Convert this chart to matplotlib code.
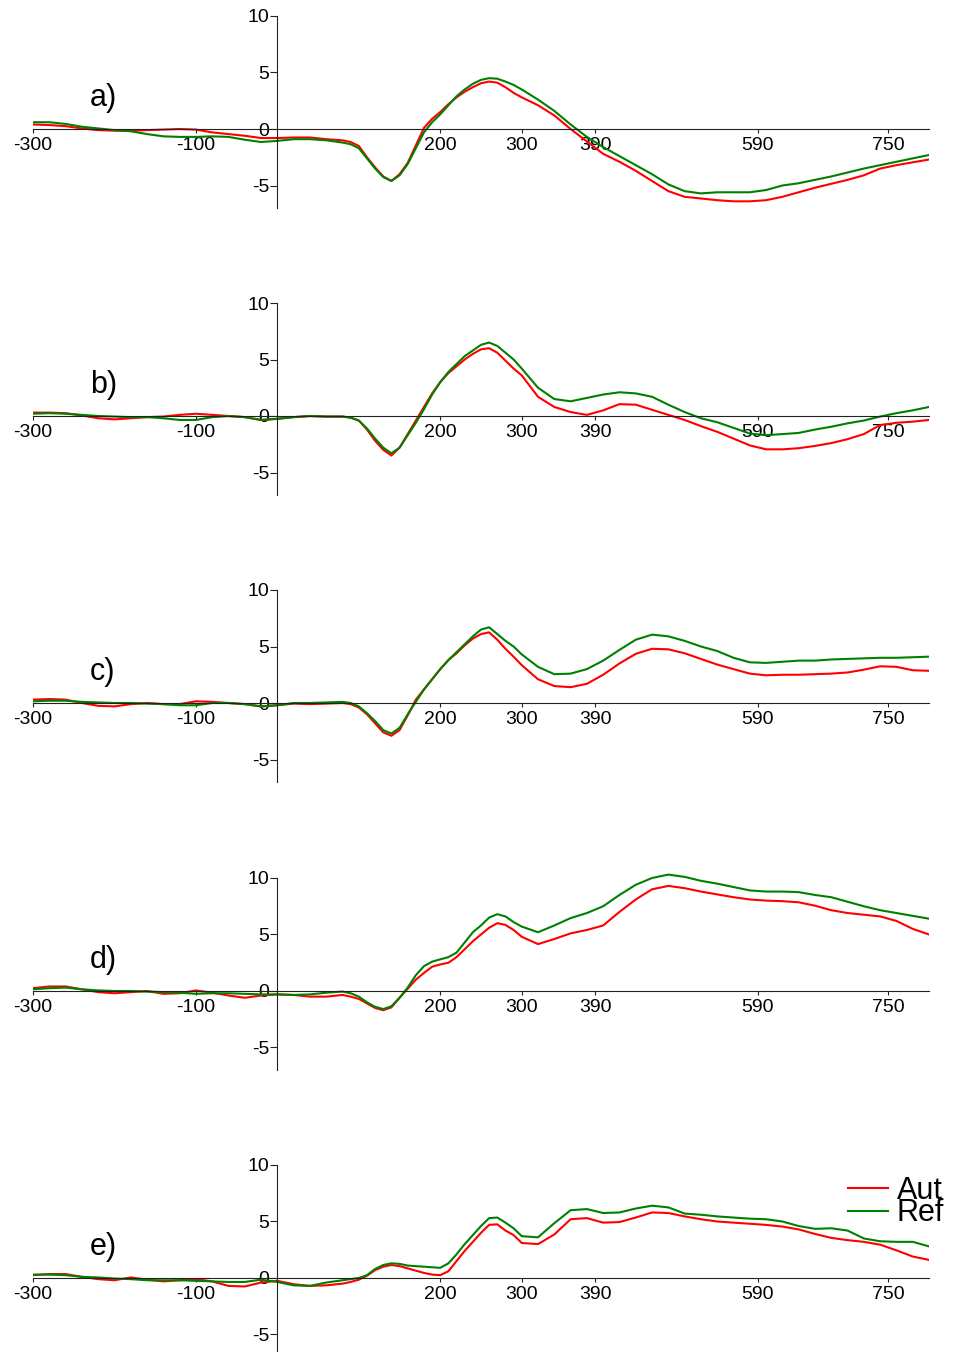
#!/usr/bin/env python3
"""
Averaged waveforms, Aut vs Ref, five conditions (a-e).
"""

import matplotlib.pyplot as plt
from matplotlib.lines import Line2D

plt.rcParams['font.family'] = ['Liberation Sans', 'DejaVu Sans']
plt.rcParams['axes.unicode_minus'] = False

# sampling times (ms): 20 ms steps, 10 ms around the early peaks
time_ms = list(range(-300, 90, 20)) + list(range(90, 301, 10)) + list(range(320, 801, 20))

panel_labels = ['a)', 'b)', 'c)', 'd)', 'e)']
xtick_vals = [-300, -100, 200, 300, 390, 590, 750]
ytick_vals = [-5, 0, 5, 10]
series_names = ['Aut', 'Ref']

# a)
aut_a = [0.4, 0.35, 0.25, 0.05, -0.1, -0.15, -0.15, -0.1, -0.05, 0.0,
         -0.05, -0.3, -0.45, -0.6, -0.8, -0.8, -0.75, -0.75, -0.9, -1.0,
         -1.15, -1.5, -2.5, -3.4, -4.2, -4.6, -4.0, -3.0, -1.45, 0.1, 0.9,
         1.5, 2.2, 2.8, 3.3, 3.7, 4.05, 4.2, 4.1, 3.7, 3.2, 2.8,
         2.1, 1.2, 0.0, -1.1, -2.2, -2.9, -3.7, -4.6, -5.5, -6.0,
         -6.15, -6.3, -6.4, -6.4, -6.3, -6.0, -5.6, -5.2, -4.85, -4.5,
         -4.1, -3.5, -3.2, -2.95, -2.7]
ref_a = [0.6, 0.6, 0.45, 0.2, 0.05, -0.1, -0.2, -0.45, -0.65, -0.7,
         -0.7, -0.65, -0.7, -0.95, -1.15, -1.05, -0.9, -0.9, -1.0, -1.2,
         -1.35, -1.7, -2.6, -3.5, -4.25, -4.6, -4.1, -3.1, -1.7, -0.3, 0.6,
         1.3, 2.1, 2.9, 3.5, 4.0, 4.35, 4.5, 4.45, 4.2, 3.9, 3.5,
         2.6, 1.6, 0.4, -0.7, -1.6, -2.4, -3.2, -4.0, -4.9, -5.5,
         -5.7, -5.6, -5.6, -5.6, -5.4, -5.0, -4.8, -4.5, -4.2, -3.85,
         -3.5, -3.2, -2.9, -2.6, -2.3]

# b)
aut_b = [0.3, 0.3, 0.25, 0.05, -0.2, -0.3, -0.2, -0.1, -0.05, 0.1,
         0.2, 0.1, 0.0, -0.1, -0.35, -0.25, -0.1, 0.0, -0.05, -0.05,
         -0.15, -0.4, -1.2, -2.2, -3.0, -3.5, -2.8, -1.6, -0.4, 0.8, 2.0,
         3.0, 3.8, 4.4, 5.0, 5.5, 5.9, 6.0, 5.6, 4.9, 4.2, 3.6,
         1.7, 0.8, 0.35, 0.1, 0.5, 1.05, 1.0, 0.55, 0.1, -0.35,
         -0.9, -1.4, -2.0, -2.6, -2.95, -2.95, -2.85, -2.65, -2.4, -2.05,
         -1.6, -0.8, -0.6, -0.5, -0.35]
ref_b = [0.2, 0.25, 0.2, 0.1, 0.0, -0.05, -0.1, -0.1, -0.2, -0.35,
         -0.35, -0.1, 0.0, -0.1, -0.35, -0.25, -0.1, 0.0, -0.05, -0.05,
         -0.15, -0.4, -1.1, -2.0, -2.8, -3.3, -2.8, -1.7, -0.6, 0.6, 1.9,
         3.0, 3.9, 4.6, 5.3, 5.8, 6.3, 6.5, 6.2, 5.6, 5.0, 4.2,
         2.5, 1.5, 1.3, 1.6, 1.9, 2.1, 2.0, 1.7, 1.0, 0.35,
         -0.2, -0.55, -1.05, -1.55, -1.7, -1.6, -1.5, -1.2, -0.95, -0.65,
         -0.4, -0.05, 0.25, 0.5, 0.8]

# c)
aut_c = [0.3, 0.35, 0.3, 0.0, -0.25, -0.3, -0.1, 0.0, -0.1, -0.1,
         0.15, 0.1, 0.0, -0.1, -0.3, -0.2, -0.05, -0.1, -0.05, 0.0,
         -0.1, -0.4, -1.0, -1.8, -2.6, -2.9, -2.4, -1.1, 0.3, 1.2, 2.1,
         3.0, 3.8, 4.4, 5.1, 5.7, 6.1, 6.25, 5.6, 4.8, 4.1, 3.35,
         2.1, 1.5, 1.4, 1.7, 2.5, 3.5, 4.35, 4.8, 4.75, 4.4,
         3.9, 3.4, 3.0, 2.6, 2.45, 2.5, 2.5, 2.55, 2.6, 2.7,
         2.95, 3.25, 3.2, 2.9, 2.85]
ref_c = [0.15, 0.2, 0.2, 0.1, 0.05, 0.0, 0.0, -0.05, -0.1, -0.2,
         -0.2, 0.0, 0.0, -0.1, -0.3, -0.2, 0.0, 0.0, 0.05, 0.1,
         0.0, -0.3, -0.9, -1.6, -2.4, -2.7, -2.2, -1.0, 0.1, 1.2, 2.1,
         3.0, 3.8, 4.5, 5.2, 5.9, 6.5, 6.7, 6.1, 5.5, 5.0, 4.3,
         3.2, 2.55, 2.6, 3.0, 3.75, 4.7, 5.6, 6.05, 5.9, 5.5,
         5.0, 4.6, 4.0, 3.6, 3.55, 3.65, 3.75, 3.75, 3.85, 3.9,
         3.95, 4.0, 4.0, 4.05, 4.1]

# d)
aut_d = [0.25, 0.4, 0.4, 0.15, -0.1, -0.2, -0.1, 0.0, -0.25, -0.2,
         0.05, -0.15, -0.4, -0.6, -0.4, -0.3, -0.35, -0.5, -0.5, -0.35,
         -0.5, -0.7, -1.1, -1.5, -1.7, -1.45, -0.6, 0.2, 1.0, 1.6, 2.15,
         2.35, 2.5, 3.0, 3.7, 4.4, 5.0, 5.6, 6.0, 5.85, 5.4, 4.8,
         4.15, 4.6, 5.1, 5.4, 5.8, 7.0, 8.1, 9.0, 9.3, 9.1,
         8.8, 8.55, 8.3, 8.1, 8.0, 7.95, 7.85, 7.55, 7.15, 6.9,
         6.75, 6.6, 6.2, 5.5, 5.0]
ref_d = [0.15, 0.25, 0.3, 0.15, 0.05, 0.0, 0.0, -0.05, -0.1, -0.15,
         -0.25, -0.2, -0.2, -0.25, -0.3, -0.3, -0.35, -0.3, -0.15, -0.05,
         -0.2, -0.5, -1.0, -1.4, -1.6, -1.35, -0.6, 0.3, 1.4, 2.2, 2.6,
         2.8, 3.0, 3.4, 4.3, 5.2, 5.8, 6.5, 6.8, 6.6, 6.1, 5.7,
         5.2, 5.8, 6.45, 6.9, 7.5, 8.5, 9.4, 10.0, 10.3, 10.1,
         9.75, 9.5, 9.2, 8.9, 8.8, 8.8, 8.75, 8.5, 8.3, 7.9,
         7.5, 7.15, 6.9, 6.65, 6.4]

# e)
aut_e = [0.25, 0.35, 0.35, 0.1, -0.1, -0.2, 0.05, -0.15, -0.3, -0.2,
         -0.1, -0.3, -0.7, -0.75, -0.4, -0.25, -0.55, -0.7, -0.65, -0.5,
         -0.35, -0.15, 0.2, 0.7, 1.0, 1.15, 1.05, 0.85, 0.65, 0.45, 0.3,
         0.25, 0.6, 1.5, 2.4, 3.2, 4.0, 4.7, 4.75, 4.2, 3.8, 3.1,
         3.0, 3.85, 5.2, 5.3, 4.9, 4.95, 5.35, 5.8, 5.75, 5.45,
         5.2, 5.0, 4.9, 4.8, 4.7, 4.55, 4.3, 3.9, 3.55, 3.35,
         3.2, 2.95, 2.45, 1.9, 1.6]
ref_e = [0.3, 0.3, 0.25, 0.1, 0.05, -0.05, -0.1, -0.2, -0.2, -0.2,
         -0.25, -0.3, -0.35, -0.35, -0.15, -0.35, -0.65, -0.7, -0.4, -0.2,
         -0.1, 0.0, 0.25, 0.8, 1.15, 1.3, 1.25, 1.1, 1.05, 1.0, 0.95,
         0.9, 1.3, 2.1, 3.0, 3.8, 4.6, 5.3, 5.35, 4.9, 4.4, 3.7,
         3.6, 4.85, 6.0, 6.1, 5.75, 5.8, 6.15, 6.4, 6.25, 5.7,
         5.6, 5.45, 5.35, 5.25, 5.2, 5.0, 4.6, 4.35, 4.4, 4.2,
         3.5, 3.25, 3.2, 3.2, 2.8]

aut_all = [aut_a, aut_b, aut_c, aut_d, aut_e]
ref_all = [ref_a, ref_b, ref_c, ref_d, ref_e]

AUT_COLOR = '#ff0000'
REF_COLOR = '#008000'

# layout in pixels (figure is 959 x 1352)
W, H = 959, 1352
left_px, width_px = 33, 896
zero_rows = [129, 416, 703, 991, 1278]
px_per_unit = 11.3
y_lo, y_hi = -7, 10.5

fig = plt.figure(figsize=(W / 100, H / 100), dpi=100)

for label, aut, ref, zero in zip(panel_labels, aut_all, ref_all, zero_rows):
    top = zero - y_hi * px_per_unit
    height = (y_hi - y_lo) * px_per_unit
    ax = fig.add_axes([left_px / W, 1 - (top + height) / H, width_px / W, height / H])

    ax.plot(time_ms, aut, color=AUT_COLOR, linewidth=1.5)
    ax.plot(time_ms, ref, color=REF_COLOR, linewidth=1.5)

    ax.set_xlim(-300, 800)
    ax.set_ylim(y_lo, y_hi)

    # axes cross at the origin
    ax.spines['top'].set_visible(False)
    ax.spines['right'].set_visible(False)
    ax.spines['left'].set_position(('data', 0))
    ax.spines['bottom'].set_position(('data', 0))
    ax.spines['left'].set_bounds(-7, 10)
    for s in ['left', 'bottom']:
        ax.spines[s].set_linewidth(0.8)
        ax.spines[s].set_color('#222222')

    ax.set_xticks(xtick_vals)
    ax.set_yticks(ytick_vals)
    ax.tick_params(axis='x', labelsize=14, length=3, width=0.8, pad=3, color='#222222')
    ax.tick_params(axis='y', labelsize=14, length=5, width=0.8, pad=1, color='#222222')
    ax.patch.set_alpha(0)

    ax.text(-230, 2.7, label, fontsize=22, ha='left', va='center')

handles = [Line2D([], [], color=AUT_COLOR, linewidth=1.5),
           Line2D([], [], color=REF_COLOR, linewidth=1.5)]
fig.legend(handles, series_names, loc='upper left',
           bbox_to_anchor=(848 / W, 1 - 1176 / H),
           frameon=False, fontsize=22, handlelength=1.3, handletextpad=0.3,
           labelspacing=-0.25, borderpad=0, borderaxespad=0)

plt.savefig('out.png', dpi=100)
